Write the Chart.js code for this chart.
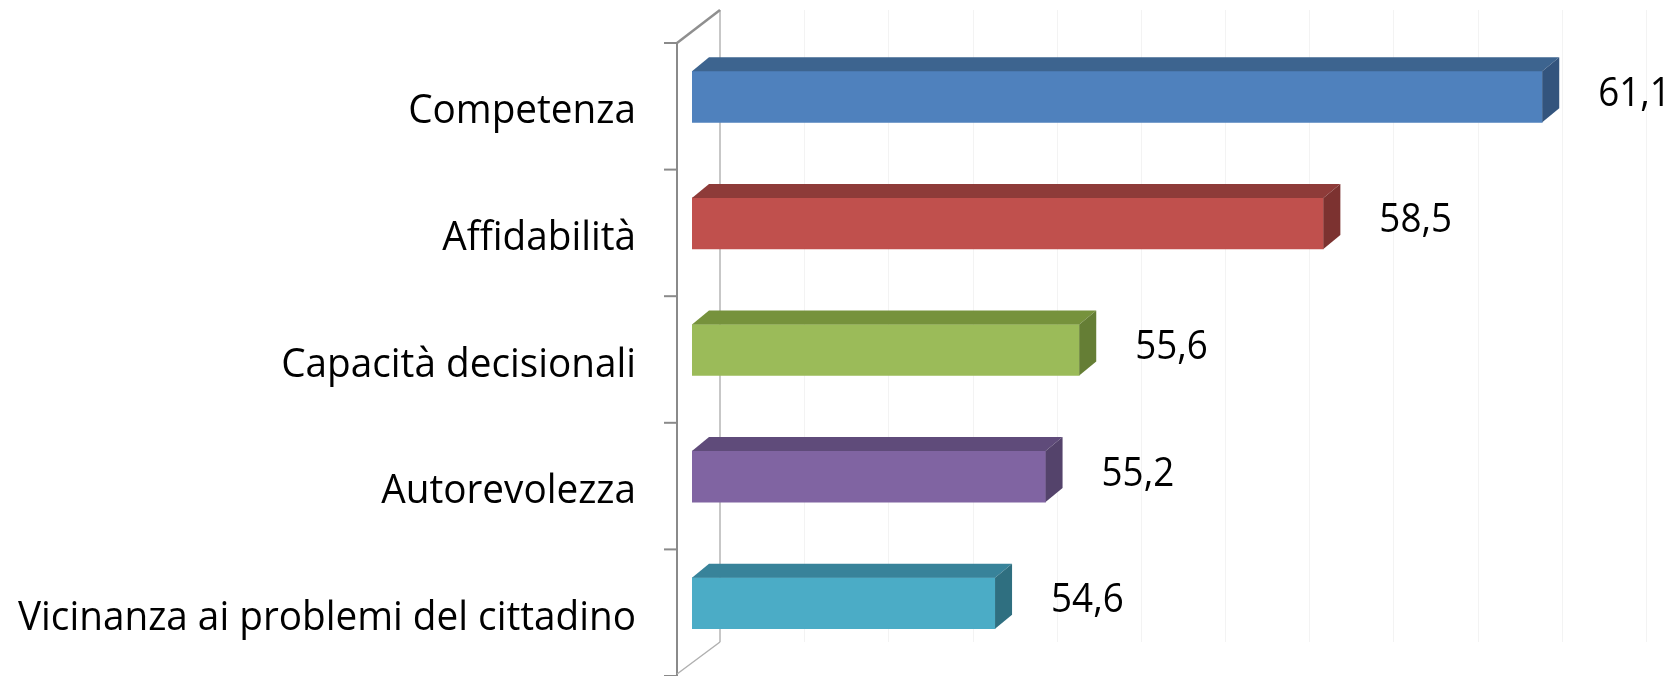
<!DOCTYPE html>
<html><head><meta charset="utf-8">
<script src="https://cdn.jsdelivr.net/npm/chart.js@4"></script>
<style>html,body{margin:0;padding:0;background:#fff;overflow:hidden;}#w{position:relative;width:1680px;height:676px;}</style>
</head><body><div id="w"><canvas id="c" width="1680" height="676"></canvas></div>
<script>
const categories = ["Competenza","Affidabilità","Capacità decisionali","Autorevolezza","Vicinanza ai problemi del cittadino"];
const values = [61.1, 58.5, 55.6, 55.2, 54.6];
const valueLabels = ["61,1","58,5","55,6","55,2","54,6"];
const frontColors = ["#4F81BD","#C0504D","#9BBB59","#8064A2","#4BACC6"];
const topColors   = ["#3D648F","#8E3B39","#76923C","#5F4B7A","#38839A"];
const sideColors  = ["#33547D","#7C3230","#657E35","#54436B","#2F6F80"];

const FONT = "'Open Sans',sans-serif";
const DX = 17, DY = 14, SHIFT = -9.5, BACK = 28;

function condensedText(ctx, text, x, y, size, align, squeeze) {
  ctx.save();
  ctx.font = size + 'px ' + FONT;
  ctx.textBaseline = 'alphabetic';
  ctx.textAlign = 'left';
  const w = ctx.measureText(text).width * squeeze;
  const x0 = align === 'right' ? x - w : x;
  ctx.translate(x0, y);
  ctx.scale(squeeze, 1);
  ctx.fillText(text, 0, 0);
  ctx.restore();
}

const threeD = {
  id: 'threeD',
  beforeDatasetsDraw(chart) {
    const ctx = chart.ctx, xs = chart.scales.x, ys = chart.scales.y, ca = chart.chartArea;
    ctx.save();
    ctx.strokeStyle = '#f3f3f3'; ctx.lineWidth = 1;
    for (let v = xs.min + 1; v <= xs.max; v += 1) {
      const x = Math.round(xs.getPixelForValue(v)) + BACK + 0.5;
      ctx.beginPath(); ctx.moveTo(x, ca.top - 33); ctx.lineTo(x, ca.bottom - 34); ctx.stroke();
    }
    const bx = xs.getPixelForValue(xs.min) + BACK;
    ctx.strokeStyle = '#b5b5b5'; ctx.lineWidth = 1.5;
    ctx.beginPath(); ctx.moveTo(bx, ca.top - 33); ctx.lineTo(bx, ca.bottom - 34); ctx.stroke();
    const fx = xs.getPixelForValue(xs.min) - 15;
    ctx.strokeStyle = '#8a8a8a'; ctx.lineWidth = 2;
    ctx.beginPath(); ctx.moveTo(fx, ca.top); ctx.lineTo(fx, ca.bottom); ctx.stroke();
    ctx.lineWidth = 2.5; ctx.strokeStyle = '#8f8f8f';
    ctx.beginPath(); ctx.moveTo(fx, ca.top); ctx.lineTo(bx, ca.top - 33); ctx.stroke();
    ctx.lineWidth = 1.5; ctx.strokeStyle = '#b0b0b0';
    ctx.beginPath(); ctx.moveTo(fx, ca.bottom - 2); ctx.lineTo(bx, ca.bottom - 34); ctx.stroke();
    ctx.strokeStyle = '#8a8a8a'; ctx.lineWidth = 2;
    const n = categories.length;
    for (let i = 0; i <= n; i++) {
      const y = ca.top + (ca.bottom - ca.top) * i / n;
      ctx.beginPath(); ctx.moveTo(fx - 13, y); ctx.lineTo(fx, y); ctx.stroke();
    }
    // category labels, condensed to match the original narrow face
    ctx.fillStyle = '#000';
    ctx.font = '40px ' + FONT;
    let maxW = 0;
    categories.forEach(c => { maxW = Math.max(maxW, ctx.measureText(c).width); });
    const sq = Math.min(1, 618 / maxW);
    categories.forEach((c, i) => {
      condensedText(ctx, c, 636, ys.getPixelForValue(i) + 17, 40, 'right', sq);
    });
    ctx.restore();
    ctx.save();
    ctx.translate(0, SHIFT);
  },
  afterDatasetsDraw(chart) {
    const ctx = chart.ctx, ca = chart.chartArea;
    const meta = chart.getDatasetMeta(0);
    meta.data.forEach((bar, i) => {
      const p = bar.getProps(['x','y','base','height'], true);
      const top = p.y - p.height / 2, bot = p.y + p.height / 2;
      const l = Math.max(p.base, ca.left), r = p.x;
      ctx.fillStyle = topColors[i];
      ctx.beginPath();
      ctx.moveTo(l, top); ctx.lineTo(l + DX, top - DY); ctx.lineTo(r + DX, top - DY); ctx.lineTo(r, top);
      ctx.closePath(); ctx.fill();
      ctx.fillStyle = sideColors[i];
      ctx.beginPath();
      ctx.moveTo(r, top); ctx.lineTo(r + DX, top - DY); ctx.lineTo(r + DX, bot - DY); ctx.lineTo(r, bot);
      ctx.closePath(); ctx.fill();
      ctx.fillStyle = '#000';
      condensedText(ctx, valueLabels[i], r + 56, p.y + 9, 40, 'left', 0.92);
    });
    ctx.restore();
  }
};

new Chart(document.getElementById('c'), {
  type: 'bar',
  data: {
    labels: categories,
    datasets: [{
      data: values,
      backgroundColor: frontColors,
      borderWidth: 0,
      barThickness: 51
    }]
  },
  options: {
    indexAxis: 'y',
    responsive: false,
    animation: false,
    layout: { padding: { top: 43, bottom: 0, left: 0, right: 62 } },
    plugins: { legend: { display: false }, tooltip: { enabled: false } },
    scales: {
      x: {
        min: 51, max: 62,
        ticks: { display: false, stepSize: 1 },
        grid: { display: false },
        border: { display: false },
        afterFit(s) { s.height = 0; s.paddingLeft = 0; s.paddingRight = 0; }
      },
      y: {
        ticks: { display: false },
        grid: { display: false, drawTicks: false },
        border: { display: false },
        afterFit(s) { s.width = 692; s.paddingTop = 0; s.paddingBottom = 0; }
      }
    }
  },
  plugins: [threeD]
});
</script>
</body></html>
